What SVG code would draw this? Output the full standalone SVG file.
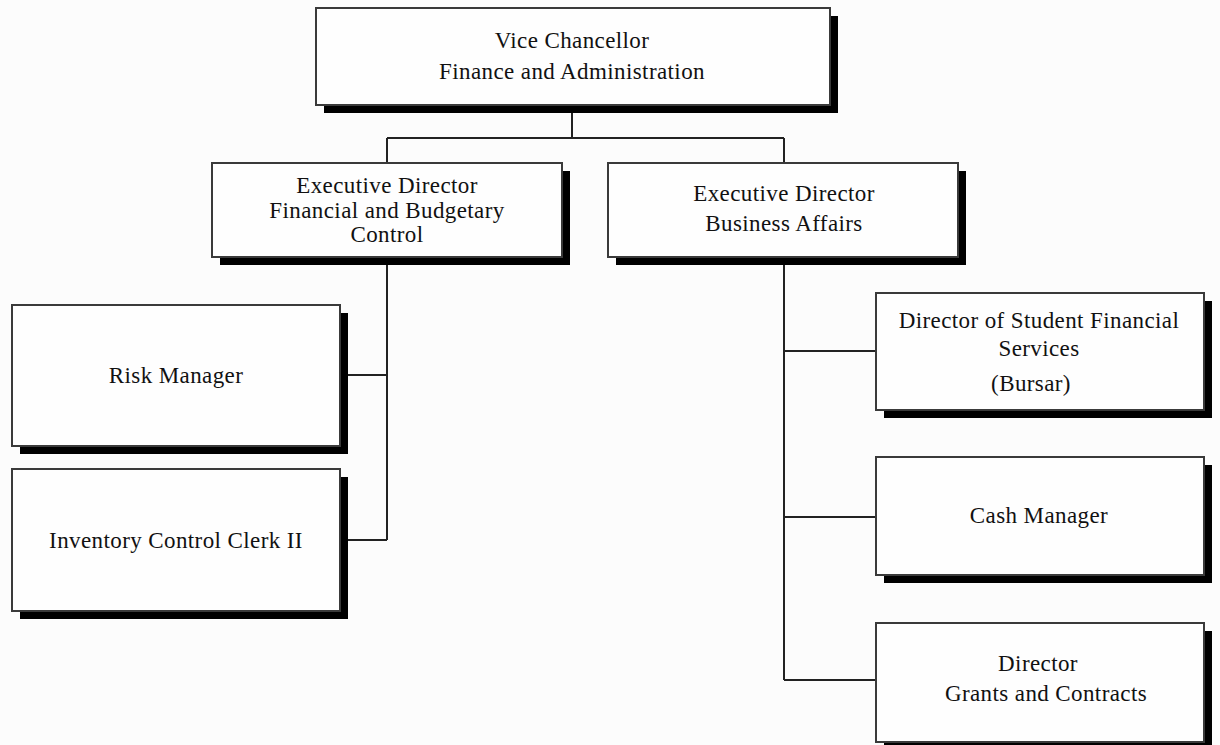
<svg xmlns="http://www.w3.org/2000/svg" width="1220" height="745" viewBox="0 0 1220 745">
<style>
.bg{fill:#fcfcfc}
.sh{fill:#000}
.bx{fill:#fefefe;stroke:#3a3a3a;stroke-width:2}
.c{fill:none;stroke:#222;stroke-width:2}
text{font-family:"Liberation Serif","Times New Roman",serif;font-size:23px;letter-spacing:0.4px;fill:#111;text-anchor:middle}
</style>
<rect class="bg" x="0" y="0" width="1220" height="745"/>
<g id="connectors">
<path class="c" d="M572 105V138M387 138H784M387 138V163M784 138V163"/>
<path class="c" d="M387 257V540M348 375H387M348 540H387"/>
<path class="c" d="M784 257V680M784 351H876M784 517H876M784 680H876"/>
</g>
<g id="vc">
<rect class="sh" x="324" y="16" width="514" height="97"/>
<rect class="bx" x="316" y="8" width="514" height="97"/>
<text x="572" y="48">Vice Chancellor</text>
<text x="572" y="79">Finance and Administration</text>
</g>
<g id="ed-fbc">
<rect class="sh" x="220" y="171" width="350" height="94"/>
<rect class="bx" x="212" y="163" width="350" height="94"/>
<text x="387" y="193">Executive Director</text>
<text x="387" y="218">Financial and Budgetary</text>
<text x="387" y="242">Control</text>
</g>
<g id="ed-ba">
<rect class="sh" x="616" y="171" width="350" height="94"/>
<rect class="bx" x="608" y="163" width="350" height="94"/>
<text x="784" y="201">Executive Director</text>
<text x="784" y="231">Business Affairs</text>
</g>
<g id="risk">
<rect class="sh" x="20" y="313" width="328" height="141"/>
<rect class="bx" x="12" y="305" width="328" height="141"/>
<text x="176" y="383">Risk Manager</text>
</g>
<g id="inventory">
<rect class="sh" x="20" y="477" width="328" height="142"/>
<rect class="bx" x="12" y="469" width="328" height="142"/>
<text x="176" y="548">Inventory Control Clerk II</text>
</g>
<g id="student">
<rect class="sh" x="884" y="301" width="328" height="117"/>
<rect class="bx" x="876" y="293" width="328" height="117"/>
<text x="1039" y="328">Director of Student Financial</text>
<text x="1039" y="356">Services</text>
<text x="1031" y="391">(Bursar)</text>
</g>
<g id="cash">
<rect class="sh" x="884" y="465" width="328" height="118"/>
<rect class="bx" x="876" y="457" width="328" height="118"/>
<text x="1039" y="523">Cash Manager</text>
</g>
<g id="grants">
<rect class="sh" x="884" y="631" width="328" height="119"/>
<rect class="bx" x="876" y="623" width="328" height="119"/>
<text x="1038" y="671">Director</text>
<text x="1046" y="701">Grants and Contracts</text>
</g>
</svg>
